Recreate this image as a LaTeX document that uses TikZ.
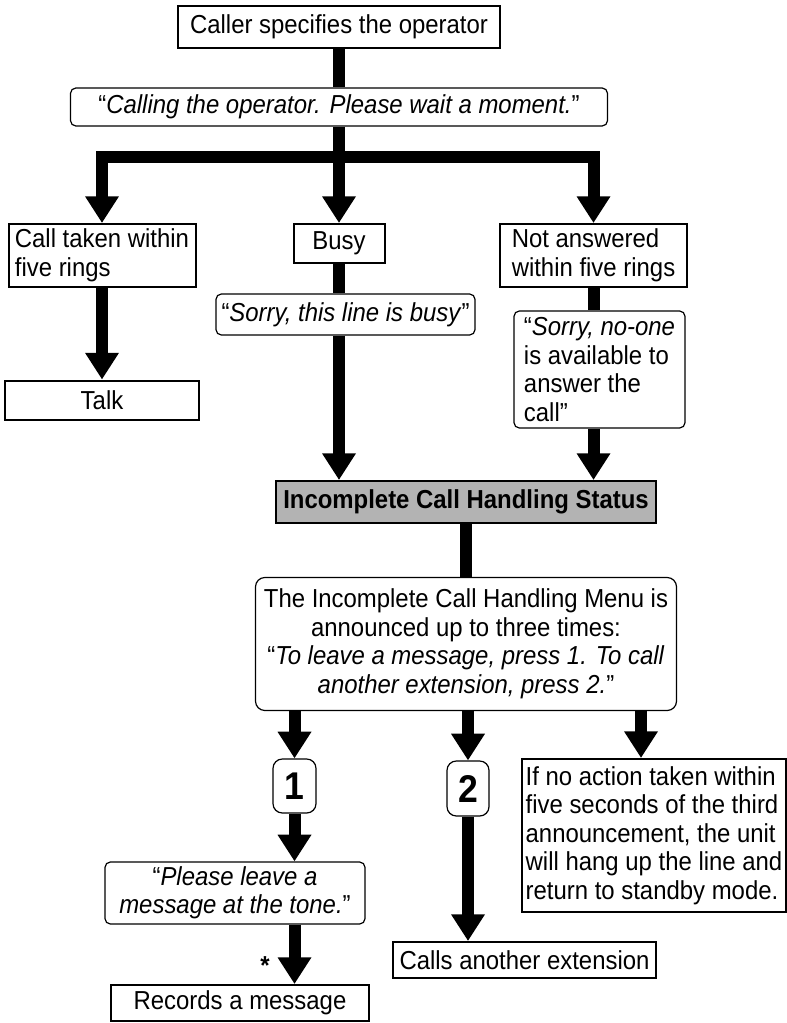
\documentclass[tikz,border=0pt]{standalone}
\usepackage{fontspec}
\setmainfont{Liberation Sans}[FakeStretch=0.92]
\usetikzlibrary{arrows.meta}
\definecolor{statusgray}{HTML}{B3B3B3}

\begin{document}
\begin{tikzpicture}[
  x=0.75pt, y=-0.75pt,
  font=\fontsize{19.5}{21.4}\selectfont,
  rectbox/.style={draw, line width=1.5pt, inner xsep=3pt, inner ysep=2pt, align=center},
  speech/.style={draw, line width=0.9pt, rounded corners=4pt, inner xsep=3pt, inner ysep=2pt, align=center},
  statusbox/.style={rectbox, fill=statusgray, font=\fontsize{19.5}{21.4}\selectfont\bfseries},
  numkey/.style={speech, rounded corners=7pt, font=\fontsize{29}{30}\selectfont\bfseries},
  trunk/.style={line width=9pt},
  drop/.style={trunk, -{Triangle[length=20pt, width=24pt]}}
]
\useasboundingbox (0,0) rectangle (787,1023);

% operator call
\node[rectbox] (caller) at (339, 27) [minimum width=241.5pt, minimum height=31.5pt] {Caller specifies the operator};
\node[speech]  (calling) at (339, 107) [minimum width=402.75pt, minimum height=28.5pt]
  {“\textit{Calling the operator. Please wait a moment.}”};
\coordinate (split) at (339, 157.5);

% three outcomes
\node[rectbox, align=left] (taken) at (102, 255.5) [minimum width=140.25pt, minimum height=47.25pt]
  {Call taken within\\five rings};
\node[rectbox] (busy)  at (339, 243.5) [minimum width=68.25pt, minimum height=29.25pt] {Busy};
\node[rectbox, align=left] (noans) at (593.5, 255.5) [minimum width=140.25pt, minimum height=47.25pt]
  {Not answered\\within five rings};

\node[rectbox] (talk) at (102, 400) [minimum width=145.5pt, minimum height=29.25pt] {Talk};
\node[speech] (sorrybusy) at (345.5, 314.5) [minimum width=194.25pt, minimum height=30.75pt]
  {“\textit{Sorry, this line is busy}”};
\node[speech, align=left] (noone) at (599.5, 369.5) [minimum width=128.25pt, minimum height=87.75pt]
  {“\itshape Sorry, no-one\\is available to\\answer the\\call{\upshape ”}};

% incomplete call handling
\node[statusbox] (status) at (466, 502) [minimum width=285pt, minimum height=31.5pt] {Incomplete Call Handling Status};
\node[speech, rounded corners=7pt] (menu) at (466, 644) [minimum width=315.75pt, minimum height=99.75pt]
  {The Incomplete Call Handling Menu is\\announced up to three times:\\“\textit{To leave a message, press 1. To call}\\\textit{another extension, press 2.}”};

\node[numkey] (one) at (294.5, 786) [minimum width=32.25pt, minimum height=40.5pt] {1};
\node[numkey] (two) at (468, 788.5) [minimum width=31.5pt, minimum height=41.25pt] {2};
\node[rectbox, align=left] (noaction) at (654, 835.5) [minimum width=198pt, minimum height=114.75pt, inner xsep=2pt]
  {If no action taken within\\five seconds of the third\\announcement, the unit\\will hang up the line and\\return to standby mode.};
\coordinate (timeout) at (641, 0);

\node[speech] (please) at (235, 893) [minimum width=195pt, minimum height=46.5pt]
  {“\textit{Please leave a}\\\textit{message at the tone.}”};
\node[rectbox] (records) at (240, 1003) [minimum width=193.5pt, minimum height=27pt] {Records a message};
\node[rectbox] (calls) at (524.5, 960) [minimum width=197.25pt, minimum height=27pt] {Calls another extension};
\node[font=\fontsize{19.5}{21.4}\selectfont\bfseries] (star) at (265, 966) {*};

% connectors
\draw[trunk] (caller) -- (calling);
\draw[trunk] (calling) -- (split);
\draw[drop] (split) -| (taken);
\draw[drop] (split) -- (busy);
\draw[drop] (split) -| (noans);
\draw[drop] (taken) -- (talk);
\draw[trunk] (busy) -- (busy |- sorrybusy.north);
\draw[drop] (busy |- sorrybusy.south) -- (busy |- status.north);
\draw[trunk] (noans) -- (noans |- noone.north);
\draw[drop] (noans |- noone.south) -- (noans |- status.north);
\draw[trunk] (status) -- (menu);
\draw[drop] (menu.south -| one) -- (one);
\draw[drop] (menu.south -| two) -- (two);
\draw[drop] (menu.south -| timeout) -- (timeout |- noaction.north);
\draw[drop] (one) -- (one |- please.north);
\draw[drop] (one |- please.south) -- (one |- records.north);
\draw[drop] (two) -- (two |- calls.north);

\end{tikzpicture}
\end{document}
